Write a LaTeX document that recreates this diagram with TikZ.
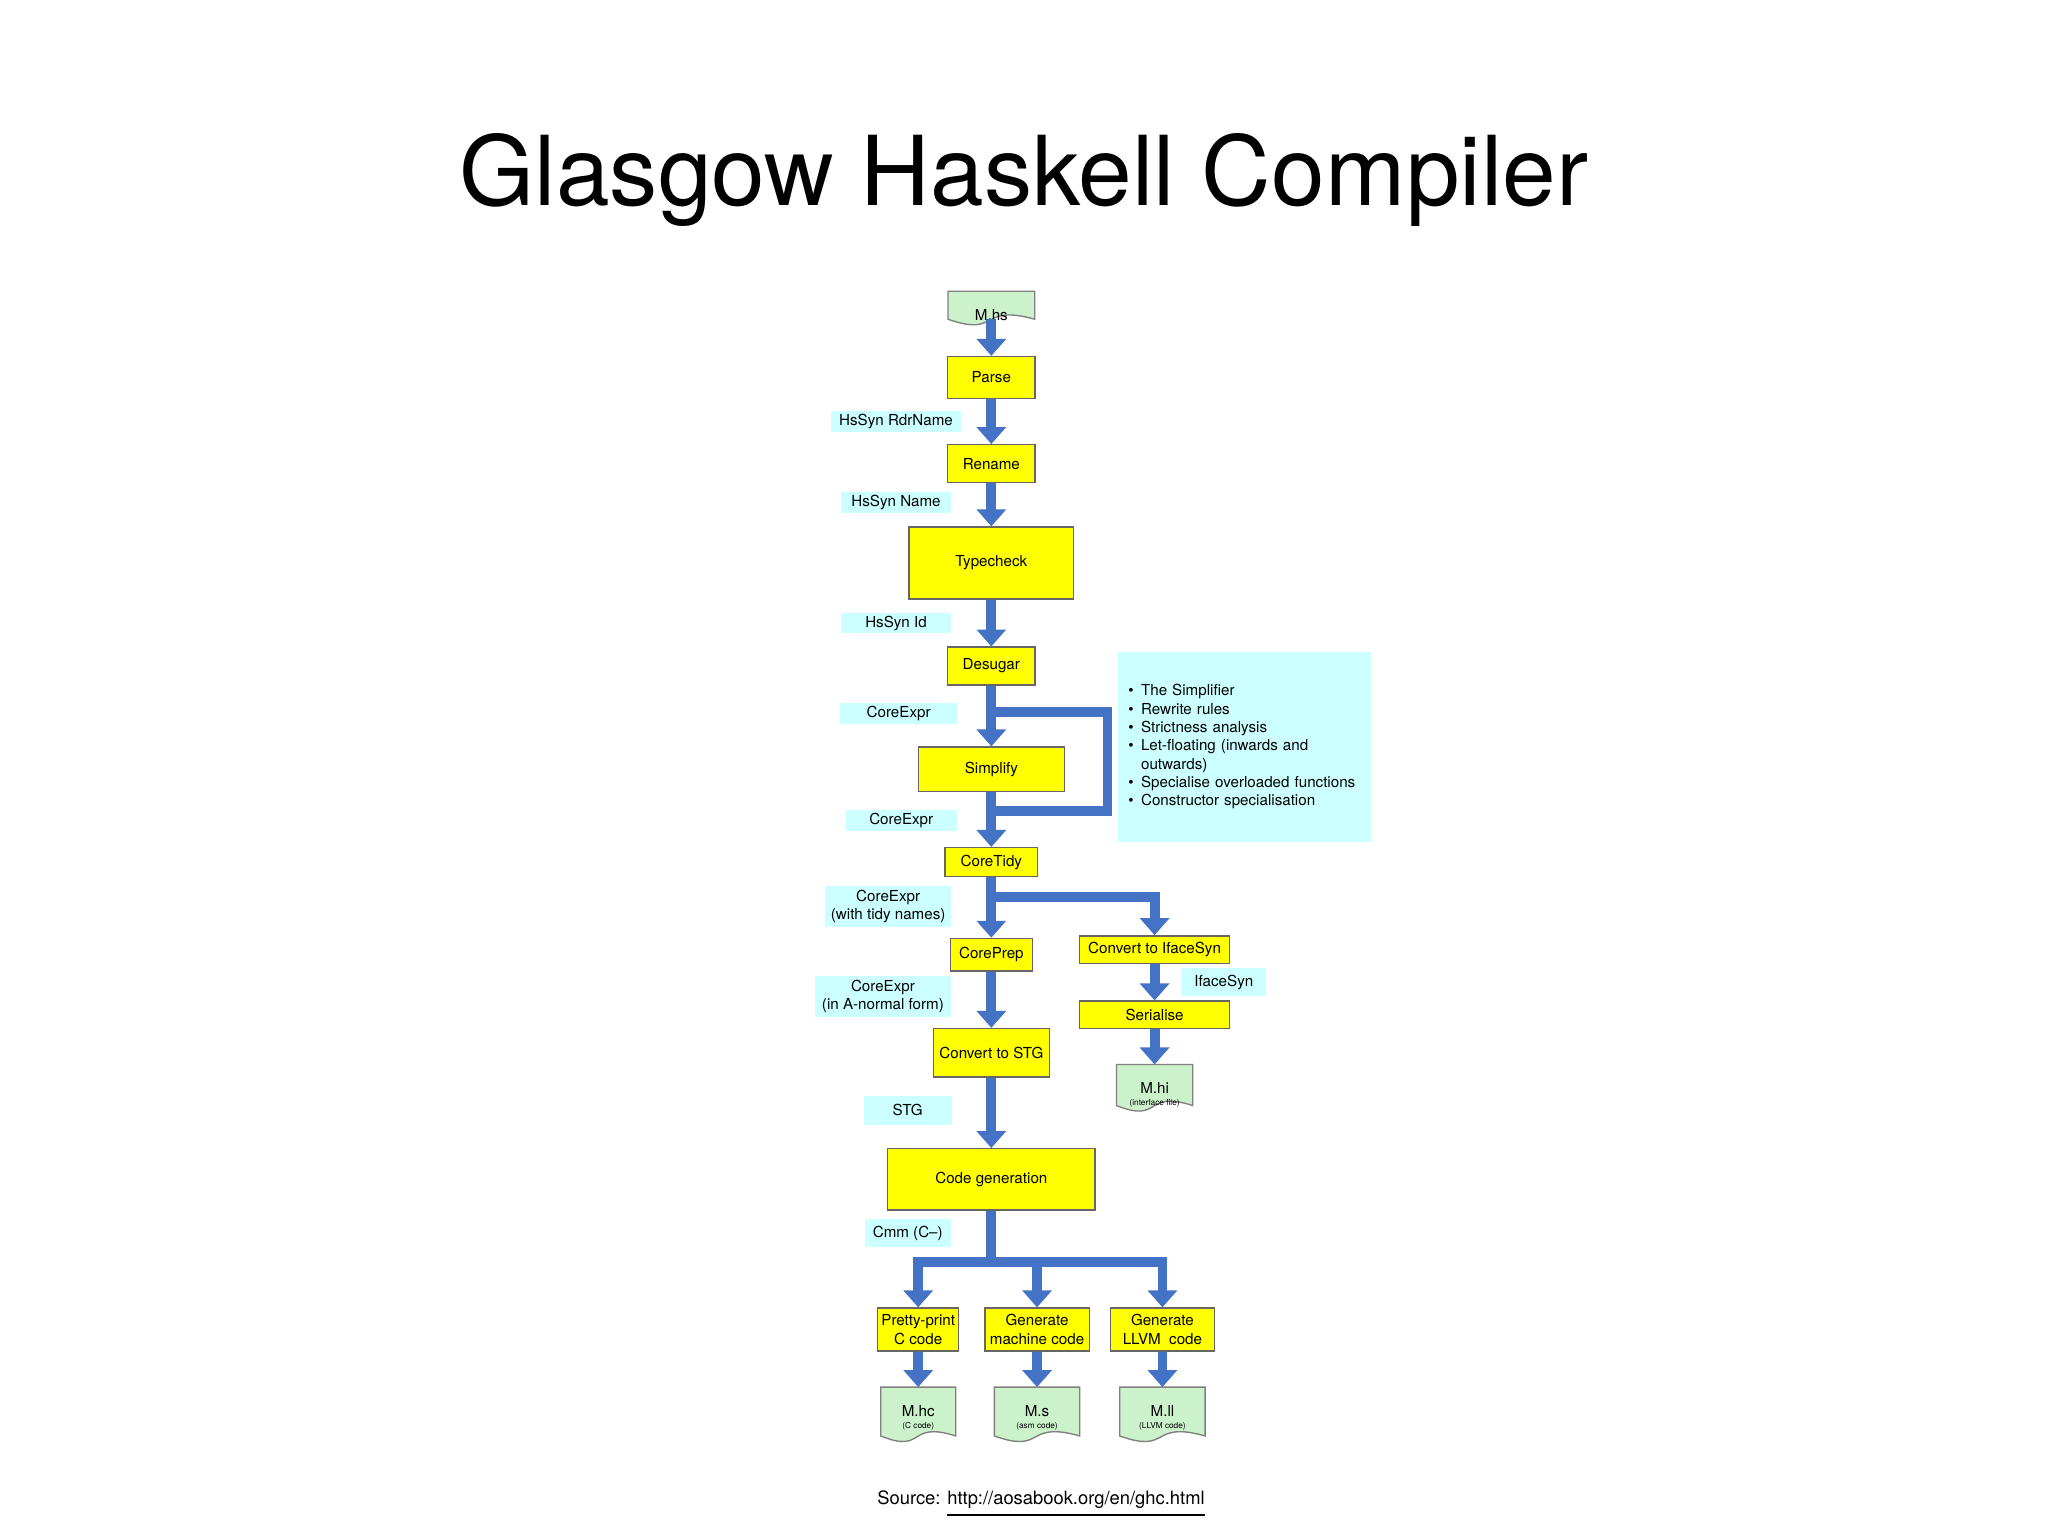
\documentclass[tikz,border=0pt]{standalone}
\usepackage{fontspec}
\setmainfont{TeX Gyre Heros}
\usetikzlibrary{arrows.meta,calc}
\definecolor{flowblue}{RGB}{68,114,196}
\definecolor{boxyellow}{RGB}{255,255,0}
\definecolor{lblcyan}{RGB}{204,255,255}
\definecolor{docgreen}{RGB}{204,242,204}
\newcommand\sm{\fontsize{3.3}{4}\selectfont}
\newcommand\tn{\fontsize{1.8}{2.2}\selectfont}
\newcommand\drawdoc[1]{\draw[docline] (#1.north west) -- (#1.north east) -- (#1.south east)
  .. controls ($(#1.south west)!0.35!(#1.south east)+(0,0.12cm)$) and ($(#1.south west)!0.6!(#1.south east)+(0,-0.14cm)$) .. (#1.south west) -- cycle;}
\tikzset{wh/.style 2 args={minimum width=#1*0.01cm,minimum height=#2*0.01cm}}
\begin{document}
\begin{tikzpicture}[x=0.01cm,y=-0.01cm,
  stepbox/.style={draw=black!60,line width=0.3pt,fill=boxyellow,inner sep=0pt,font=\sm,align=center},
  lbl/.style={fill=lblcyan,inner sep=0pt,font=\sm,align=center},
  doc/.style={inner sep=0pt,font=\sm,align=center,anchor=north},
  docline/.style={draw=black!50,line width=0.3pt,fill=docgreen},
  arr/.style={draw=flowblue,line width=0.075cm,-{Triangle[width=0.22cm,length=0.13cm]}},
  ln/.style={draw=flowblue,line width=0.075cm}]
\useasboundingbox (0,0) rectangle (1568,1176);
\fill[white] (0,0) rectangle (1568,1176);
\node[font=\fontsize{21}{25}\selectfont] (title) at (784,138) {Glasgow Haskell Compiler};
\node[font=\fontsize{4}{5}\selectfont] (src) at (797,1152) {Source: \underline{http://aosabook.org/en/ghc.html}};

% documents
\node[doc,wh={65}{20}] (mhs) at (759,223) {};
\node[doc,wh={57}{30}] (mhi) at (884,815) {};
\node[doc,wh={56}{36}] (mhc) at (703,1062) {};
\node[doc,wh={64}{36}] (ms) at (794,1062) {};
\node[doc,wh={64}{36}] (mll) at (890,1062) {};
\drawdoc{mhs}\drawdoc{mhi}\drawdoc{mhc}\drawdoc{ms}\drawdoc{mll}
\node[font=\sm,anchor=north] at (mhs.north) {\strut M.hs};
\node[font=\sm,anchor=north,align=center] at (mhi.north) {\strut M.hi\\[-1.4pt]{\tn(interface file)}};
\node[font=\sm,anchor=north,align=center] at (mhc.north) {\strut M.hc\\[-1.4pt]{\tn(C code)}};
\node[font=\sm,anchor=north,align=center] at (ms.north) {\strut M.s\\[-1.4pt]{\tn(asm code)}};
\node[font=\sm,anchor=north,align=center] at (mll.north) {\strut M.ll\\[-1.4pt]{\tn(LLVM code)}};

% steps
\node[stepbox,wh={67}{32}] (parse) at (759,289) {Parse};
\node[stepbox,wh={67}{29}] (rename) at (759,355) {Rename};
\node[stepbox,wh={126}{55}] (tc) at (759,431) {Typecheck};
\node[stepbox,wh={67}{29}] (desugar) at (759,510) {Desugar};
\node[stepbox,wh={112}{34}] (simp) at (759,589) {Simplify};
\node[stepbox,wh={71}{22}] (tidy) at (759,660) {CoreTidy};
\node[stepbox,wh={63}{25}] (prep) at (759,731) {CorePrep};
\node[stepbox,wh={89}{37}] (stg) at (759,806) {Convert to STG};
\node[stepbox,wh={159}{47}] (cg) at (759,903) {Code generation};
\node[stepbox,wh={115}{21}] (iface) at (884,727) {Convert to IfaceSyn};
\node[stepbox,wh={115}{21}] (ser) at (884,777) {Serialise};
\node[stepbox,wh={62}{33}] (pp) at (703,1018) {Pretty-print\\C code};
\node[stepbox,wh={80}{33}] (gm) at (794,1018) {Generate\\machine code};
\node[stepbox,wh={80}{33}] (gl) at (890,1018) {Generate\\LLVM\ \ code};

% labels
\node[lbl,wh={100}{16}] (l1) at (686,323) {HsSyn RdrName};
\node[lbl,wh={84}{16}] (l2) at (686,385) {HsSyn Name};
\node[lbl,wh={84}{16}] (l3) at (686,477) {HsSyn Id};
\node[lbl,wh={89}{16}] (l4) at (688,546) {CoreExpr};
\node[lbl,wh={85}{16}] (l5) at (690,628) {CoreExpr};
\node[lbl,wh={96}{32}] (l6) at (680,694) {CoreExpr\\(with tidy names)};
\node[lbl,wh={104}{31}] (l7) at (676,763) {CoreExpr\\(in A-normal form)};
\node[lbl,wh={65}{21}] (l8) at (937,752) {IfaceSyn};
\node[lbl,wh={67}{22}] (l9) at (695,850) {STG};
\node[lbl,wh={66}{21}] (l10) at (695,944) {Cmm (C--)};
\node[lbl,wh={194}{145},text width=1.78cm,align=left] (notes) at (953,572) {%
\begin{tabular}{@{}l@{\hspace{1.6pt}}l@{}}
\textbullet & The Simplifier\\
\textbullet & Rewrite rules\\
\textbullet & Strictness analysis\\
\textbullet & Let-floating (inwards and\\
 & outwards)\\
\textbullet & Specialise overloaded functions\\
\textbullet & Constructor specialisation
\end{tabular}};

% connectors
\draw[arr] (mhs) -- (parse);
\draw[arr] (parse) -- (rename);
\draw[arr] (rename) -- (tc);
\draw[arr] (tc) -- (desugar);
\draw[arr] (desugar) -- (simp);
\coordinate (loopa) at (759,545);
\coordinate (loopb) at (848,621);
\coordinate (loopc) at (759,621);
\draw[ln,line join=miter] (loopa) -| (loopb) -- (loopc);
\draw[arr] (simp) -- (tidy);
\draw[arr] (tidy) -- (prep);
\coordinate (br1) at (759,687);
\draw[arr,line join=miter] (br1) -| (iface);
\draw[arr] (iface) -- (ser);
\draw[arr] (ser) -- (mhi);
\draw[arr] (prep) -- (stg);
\draw[arr] (stg) -- (cg);
\coordinate (br2) at (759,966);
\draw[ln] (cg) -- (br2);
\draw[arr,line join=miter] (br2) -| (pp);
\draw[arr] (br2) -| (gm);
\draw[arr,line join=miter] (br2) -| (gl);
\draw[arr] (pp) -- (mhc);
\draw[arr] (gm) -- (ms);
\draw[arr] (gl) -- (mll);
\end{tikzpicture}
\end{document}
